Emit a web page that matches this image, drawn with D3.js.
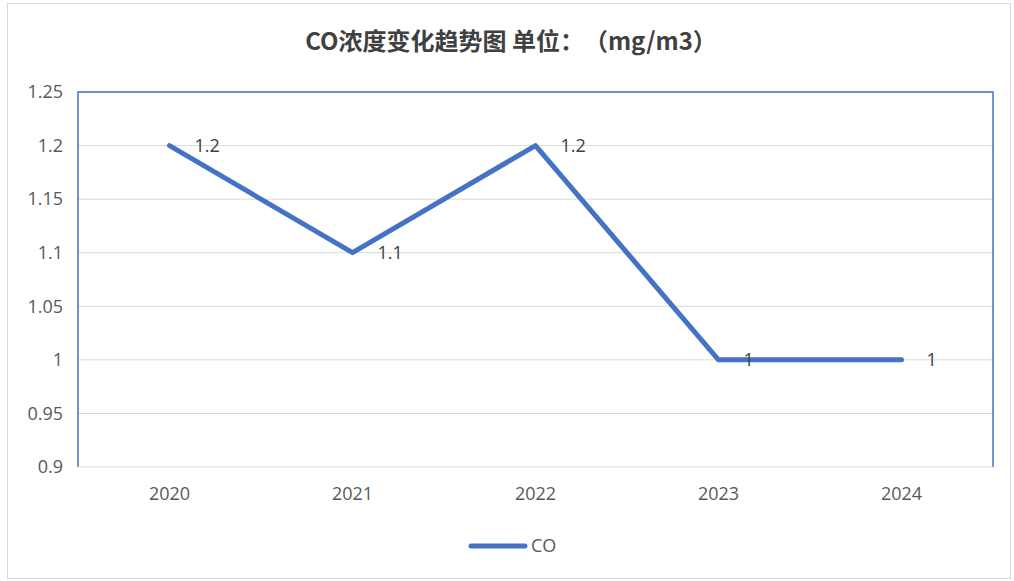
<!DOCTYPE html>
<html>
<head>
<meta charset="utf-8">
<script src="https://cdn.jsdelivr.net/npm/d3@7"></script>
<style>
  body { margin: 0; background: #fff; }
  svg { display: block; }
  .title { text-spacing-trim: space-all; font-feature-settings: "chws" 0, "halt" 0; }
</style>
</head>
<body>
<svg width="1014" height="581"></svg>
<script>
var years = ['2020', '2021', '2022', '2023', '2024'];
var coValues = [1.2, 1.1, 1.2, 1, 1];
var yTicks = [0.9, 0.95, 1, 1.05, 1.1, 1.15, 1.2, 1.25];
var titleText = 'CO浓度变化趋势图 单位：（mg/m3）';
var seriesName = 'CO';

var svg = d3.select('svg');
var font = '"Open Sans", "Noto Sans CJK SC", sans-serif';

// chart frame
svg.append('rect')
  .attr('x', 7.5).attr('y', 3.5)
  .attr('width', 1003).attr('height', 575)
  .attr('fill', '#fff')
  .attr('stroke', '#d9d9d9');

var plotLeft = 78, plotRight = 993, plotTop = 92, plotBottom = 467;

var x = d3.scaleBand().domain(years).range([plotLeft, plotRight]);
var y = d3.scaleLinear().domain([0.9, 1.25]).range([plotBottom, plotTop]);

// gridlines
svg.append('g').selectAll('line.grid')
  .data(yTicks.slice(1))
  .enter()
  .append('line')
  .classed('grid', true)
  .attr('x1', plotLeft).attr('x2', plotRight)
  .attr('y1', function(d) { return y(d); })
  .attr('y2', function(d) { return y(d); })
  .attr('stroke', '#d9d9d9')
  .attr('stroke-width', 1);

// plot area border (blue)
svg.append('path')
  .attr('d', 'M' + plotLeft + ',' + plotBottom + 'V' + plotTop + 'H' + plotRight + 'V' + plotBottom)
  .attr('fill', 'none')
  .attr('stroke', '#4472C4')
  .attr('stroke-width', 1.5);

// x axis line
svg.append('line')
  .attr('x1', plotLeft).attr('x2', plotRight)
  .attr('y1', plotBottom).attr('y2', plotBottom)
  .attr('stroke', '#d9d9d9');

// y axis labels
var yAxis = d3.axisLeft(y).tickValues(yTicks).tickSize(0).tickPadding(15)
  .tickFormat(function(d) { return String(+d.toFixed(2)); });
var gy = svg.append('g').attr('transform', 'translate(' + plotLeft + ',0)').call(yAxis);
gy.select('.domain').remove();
gy.selectAll('text')
  .attr('font-family', font)
  .attr('font-size', 18)
  .attr('fill', '#595959');

// x axis labels
var xAxis = d3.axisBottom(x).tickSize(0).tickPadding(20);
var gx = svg.append('g').attr('transform', 'translate(0,' + plotBottom + ')').call(xAxis);
gx.select('.domain').remove();
gx.selectAll('text')
  .attr('font-family', font)
  .attr('font-size', 18)
  .attr('fill', '#595959');

// line
var data = years.map(function(d, i) { return { year: d, value: coValues[i] }; });
var line = d3.line()
  .x(function(d) { return x(d.year) + x.bandwidth() / 2; })
  .y(function(d) { return y(d.value); });

svg.append('path')
  .datum(data)
  .attr('d', line)
  .attr('fill', 'none')
  .attr('stroke', '#4472C4')
  .attr('stroke-width', 5)
  .attr('stroke-linecap', 'round')
  .attr('stroke-linejoin', 'round');

// data labels
svg.append('g').selectAll('text.label')
  .data(data)
  .enter()
  .append('text')
  .classed('label', true)
  .attr('x', function(d) { return x(d.year) + x.bandwidth() / 2 + 25; })
  .attr('y', function(d) { return y(d.value); })
  .attr('dy', '0.35em')
  .attr('font-family', font)
  .attr('font-size', 18)
  .attr('fill', '#404040')
  .text(function(d) { return d.value; });

// title
svg.append('text')
  .classed('title', true)
  .attr('x', 511).attr('y', 50)
  .attr('text-anchor', 'middle')
  .attr('font-family', '"Noto Sans CJK SC", sans-serif')
  .attr('font-size', 24)
  .attr('font-weight', 'bold')
  .attr('fill', '#404040')
  .text(titleText);

// legend
var lg = svg.append('g').attr('transform', 'translate(471,546)');
lg.append('line')
  .attr('x1', 0).attr('x2', 54)
  .attr('stroke', '#4472C4')
  .attr('stroke-width', 5)
  .attr('stroke-linecap', 'round');
lg.append('text')
  .attr('x', 60).attr('dy', '0.35em')
  .attr('font-family', font)
  .attr('font-size', 18)
  .attr('fill', '#595959')
  .text(seriesName);
</script>
</body>
</html>
